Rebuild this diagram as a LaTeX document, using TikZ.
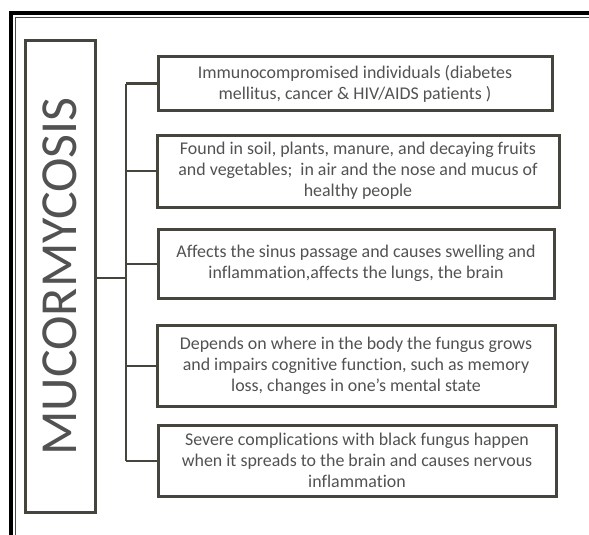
\documentclass[tikz,border=0pt]{standalone}
\usepackage{fontspec}
\setmainfont[Ligatures=NoCommon]{Carlito}
\definecolor{linec}{HTML}{46453D}
\definecolor{textc}{HTML}{525252}
\begin{document}
\begin{tikzpicture}[x=1pt,y=-1pt,
  box/.style={draw=linec, line width=3pt, fill=white, align=center, inner sep=0pt,
    text=textc, font=\fontsize{17.9}{21}\selectfont},
  conn/.style={draw=linec, line width=2pt}]
\useasboundingbox (0,0) rectangle (589,535);
% outer frame
\draw[line width=4pt, black] (589,13) -- (11,13) -- (11,535);
\draw[line width=1.2pt, black!70] (589,17.5) -- (15.5,17.5) -- (15.5,535);
% main box
\node[draw=linec, line width=3pt, minimum width=70pt, minimum height=471pt, inner sep=0pt] (main) at (60,276.5) {};
\node[rotate=90, text=textc, font=\fontsize{52}{52}\selectfont] (title) at (main.center) {MUCORMYCOSIS};
% boxes
\node[box, minimum width=394pt, minimum height=54pt] (b1) at (355,83.5)
  {Immunocompromised individuals (diabetes\\mellitus, cancer \& HIV/AIDS patients )};
\node[box, minimum width=402pt, minimum height=72pt] (b2) at (358,171)
  {Found in soil, plants, manure, and decaying fruits\\and vegetables;\ \ in air and the nose and mucus of\\healthy people};
\node[box, minimum width=396pt, minimum height=69pt] (b3) at (356,263.5)
  {Affects the sinus passage and causes swelling and\\inflammation,affects the lungs, the brain};
\node[box, minimum width=398pt, minimum height=81pt] (b4) at (356,365.5)
  {Depends on where in the body the fungus grows\\and impairs cognitive function, such as memory\\loss, changes in one’s mental state};
\node[box, minimum width=398pt, minimum height=71pt] (b5) at (357,460.5)
  {Severe complications with black fungus happen\\when it spreads to the brain and causes nervous\\inflammation};
% connectors
\coordinate (trunk) at (126,0);
\coordinate (mainjoin) at (126,278);
\draw[conn] (b1.west -| trunk) -- (b5.west -| trunk);
\draw[conn] (main.east |- mainjoin) -- (mainjoin);
\foreach \b in {b1,b2,b3,b4,b5}
  \draw[conn] (\b.west) -- (\b.west -| trunk);
\end{tikzpicture}
\end{document}
